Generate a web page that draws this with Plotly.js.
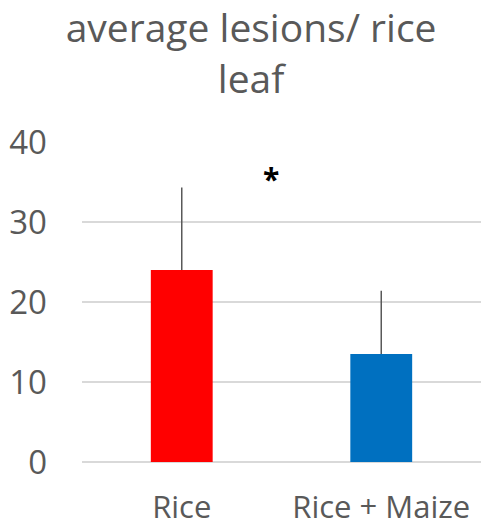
<!DOCTYPE html>
<html>
<head>
<meta charset="utf-8">
<script src="https://cdn.plot.ly/plotly-3.0.1.min.js"></script>
<style>html,body{margin:0;padding:0;background:#fff;}#chart{width:481px;height:526px;}</style>
</head>
<body>
<div id="chart"></div>
<script>
const categories = ["Rice", "Rice + Maize"];
const values = [24.0, 13.5];
const errorsPlus = [10.3, 7.9];
const errorsMinus = [0, 0];
const barColors = ["#FF0000", "#0070C0"];
const tickValues = [0, 10, 20, 30, 40];
const chartTitle = "average lesions/ rice<br>leaf";
const sigMark = "*";

const font = "'Open Sans', 'Liberation Sans', sans-serif";

const trace = {
  type: "bar",
  x: categories,
  y: values,
  marker: {color: barColors},
  error_y: {
    type: "data",
    symmetric: false,
    array: errorsPlus,
    arrayminus: errorsMinus,
    color: "#595959",
    thickness: 1.5,
    width: 0
  },
  hoverinfo: "none"
};

const layout = {
  width: 481,
  height: 526,
  margin: {l: 82, r: 0, t: 142, b: 64},
  paper_bgcolor: "#ffffff",
  plot_bgcolor: "#ffffff",
  showlegend: false,
  bargap: 0.69,
  title: {
    text: chartTitle,
    font: {family: font, size: 39, color: "#595959"},
    x: 0.522, xanchor: "center", xref: "container",
    y: 0.92, yanchor: "top", yref: "container"
  },
  xaxis: {
    type: "category",
    showgrid: false,
    showline: false,
    zeroline: false,
    ticks: "",
    tickfont: {family: font, size: 31, color: "#595959"},
    ticklabelstandoff: 24
  },
  yaxis: {
    range: [0, 40],
    tickvals: tickValues,
    showgrid: true,
    gridcolor: "#d9d9d9",
    gridwidth: 1.5,
    zeroline: true,
    zerolinecolor: "#d9d9d9",
    zerolinewidth: 1.5,
    showline: false,
    ticks: "",
    tickfont: {family: font, size: 33, color: "#595959"},
    ticklabelstandoff: 34
  },
  annotations: [{
    x: 0.447, y: 35.5, xref: "x", yref: "y",
    text: "<b>" + sigMark + "</b>",
    showarrow: false,
    font: {family: font, size: 30, color: "#000000"},
    xanchor: "center", yanchor: "middle"
  }]
};

Plotly.newPlot("chart", [trace], layout, {displayModeBar: false, staticPlot: true});
</script>
</body>
</html>
